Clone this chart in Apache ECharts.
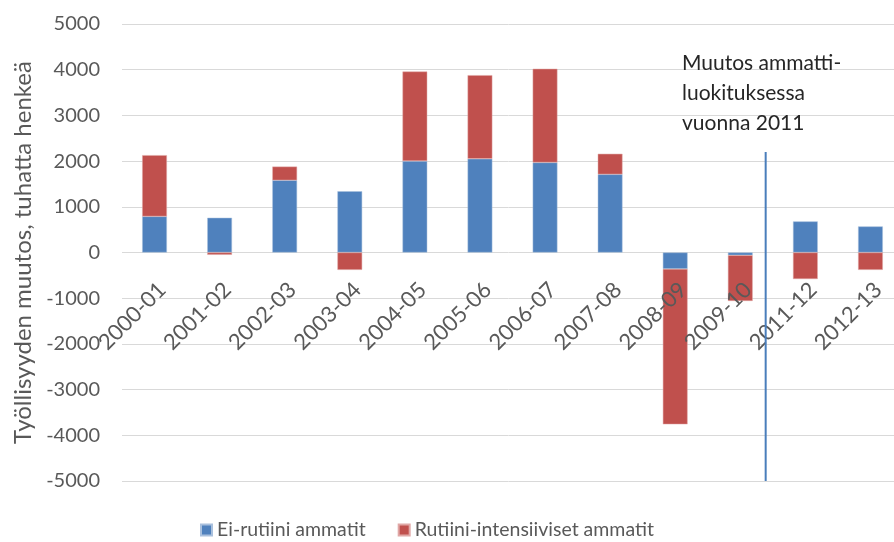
<!DOCTYPE html>
<html>
<head>
<meta charset="utf-8">
<script src="https://cdn.jsdelivr.net/npm/echarts@6/dist/echarts.min.js"></script>
<style>
  html, body { margin: 0; padding: 0; background: #fff; }
  #chart { width: 894px; height: 542px; }
</style>
</head>
<body>
<div id="chart"></div>
<script>
// vuosiparit
const categories = ['2000-01', '2001-02', '2002-03', '2003-04', '2004-05', '2005-06',
  '2006-07', '2007-08', '2008-09', '2009-10', '2011-12', '2012-13']
// tuhatta henkeä
const eiRutiini = [790, 760, 1580, 1340, 2000, 2050, 1970, 1710, -360, -60, 680, 570]
const rutiini = [1340, -50, 300, -380, 1960, 1830, 2050, 450, -3400, -1000, -580, -380]
const yTicks = { min: -5000, max: 5000, interval: 1000 }
const breakLine = { from: 2200, to: -5000 } // luokitusmuutoksen viiva

const font = 'Lato, "Open Sans", sans-serif'
const grey = '#595959'
const gridHeight = 457
// x-akselin nimiöt nollatasolle
const zeroOffset = -gridHeight * (0 - yTicks.min) / (yTicks.max - yTicks.min)

const chart = echarts.init(document.getElementById('chart'))
const options = {
  animation: false,
  textStyle: { fontFamily: font },
  grid: {
    left: 122,
    top: 24,
    width: 781,
    height: gridHeight,
    containLabel: false,
    outerBoundsMode: 'none',
  },
  legend: {
    left: 195,
    top: 515,
    icon: 'rect',
    itemWidth: 11,
    itemHeight: 11,
    itemGap: 32,
    textStyle: { color: grey, fontSize: 19.5, fontFamily: font },
    data: ['Ei-rutiini ammatit', 'Rutiini-intensiiviset ammatit'],
  },
  xAxis: {
    type: 'category',
    data: categories,
    offset: zeroOffset,
    z: 5,
    axisTick: { show: false },
    axisLine: { show: false, onZero: false },
    axisLabel: {
      rotate: 45,
      margin: 26,
      verticalAlign: 'top',
      color: grey,
      fontSize: 22,
      fontFamily: font,
      interval: 0,
    },
  },
  yAxis: {
    type: 'value',
    min: yTicks.min,
    max: yTicks.max,
    interval: yTicks.interval,
    name: 'Työllisyyden muutos, tuhatta henkeä',
    nameLocation: 'middle',
    nameGap: 86,
    nameTextStyle: { color: grey, fontSize: 24, fontFamily: font },
    axisLine: { show: false },
    axisTick: { show: false },
    axisLabel: {
      color: grey,
      fontSize: 20,
      margin: 22,
      fontFamily: font,
      formatter: (v) => String(v),
    },
    splitLine: { lineStyle: { color: '#d9d9d9', width: 1 } },
  },
  series: [
    {
      name: 'Ei-rutiini ammatit',
      type: 'bar',
      stack: 'total',
      barWidth: '38%',
      data: eiRutiini,
      itemStyle: { color: '#4f81bd', borderColor: '#a9c0dd', borderWidth: 0.5 },
    },
    {
      name: 'Rutiini-intensiiviset ammatit',
      type: 'bar',
      stack: 'total',
      barWidth: '38%',
      data: rutiini,
      itemStyle: { color: '#c0504d', borderColor: '#e0a8a6', borderWidth: 0.5 },
    },
  ],
}
chart.setOption(options)

// pystyviiva kategorioiden 2009-10 ja 2011-12 väliin
const p9 = chart.convertToPixel({ xAxisIndex: 0 }, categories[9])
const p10 = chart.convertToPixel({ xAxisIndex: 0 }, categories[10])
const lx = p9 + (p10 - p9) * 0.39
const y1 = chart.convertToPixel({ yAxisIndex: 0 }, breakLine.from)
const y2 = chart.convertToPixel({ yAxisIndex: 0 }, breakLine.to)
chart.setOption({
  graphic: [
    {
      type: 'line',
      shape: { x1: lx, y1: y1, x2: lx, y2: y2 },
      style: { stroke: '#4a7ebb', lineWidth: 2 },
      z: 10,
    },
    {
      type: 'text',
      left: 682,
      top: 48,
      style: {
        text: 'Muutos ammatti-\nluokituksessa\nvuonna 2011',
        fill: '#262626',
        font: '21px ' + font,
        lineHeight: 30,
      },
      z: 10,
    },
  ],
})
window.addEventListener('resize', () => {
  chart.resize()
})
</script>
</body>
</html>
